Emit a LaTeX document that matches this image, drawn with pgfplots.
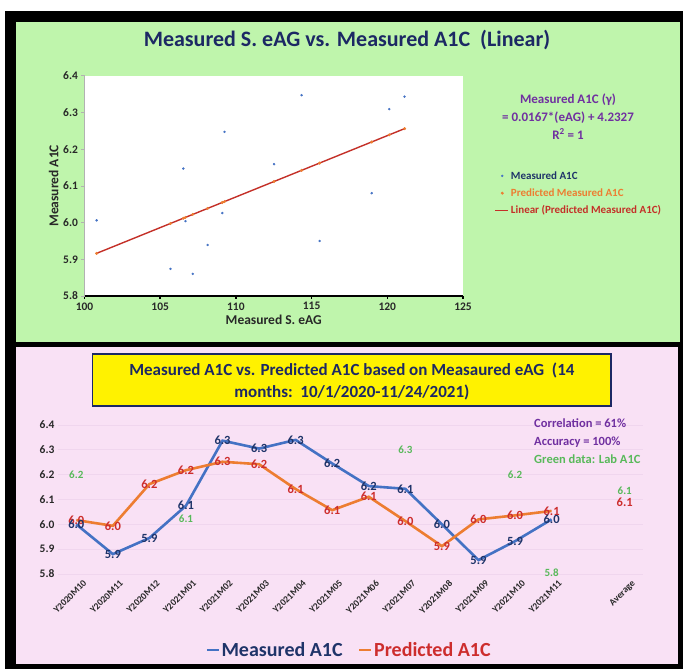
\documentclass[border=0pt]{standalone}
\usepackage{fontspec}
\setmainfont{Carlito}
\usepackage{pgfplots}
\pgfplotsset{compat=1.18}
\definecolor{bggreen}{RGB}{191,245,172}
\definecolor{bgpink}{RGB}{249,225,245}
\definecolor{titlenavy}{RGB}{28,40,100}
\definecolor{purp}{RGB}{112,48,160}
\definecolor{ptblue}{RGB}{68,114,196}
\definecolor{ptorange}{RGB}{237,125,49}
\definecolor{trendred}{RGB}{196,48,40}
\definecolor{navylab}{RGB}{31,52,105}
\definecolor{redlab}{RGB}{205,45,45}
\definecolor{greenlab}{RGB}{88,185,90}
\definecolor{gridpink}{RGB}{240,214,238}
\definecolor{txtgray}{RGB}{40,40,40}
\pgfplotsset{
  legmark/.style={legend image code/.code={\draw[mark repeat=2,mark phase=2,##1] plot coordinates {(0pt,0pt)(7pt,0pt)(14pt,0pt)};}},
  legline/.style={legend image code/.code={\draw[##1] (0pt,0pt) -- (13pt,0pt);}},
  leglinebot/.style={legend image code/.code={\draw[##1, line width=1.5pt] (0pt,0pt) -- (12pt,0pt);}},
}
\begin{document}
\begin{tikzpicture}[x=1pt,y=1pt]
\fill[white] (0,0) rectangle (683,669);
\fill[black] (5,0) rectangle (683,658);
\fill[bggreen] (16,327) rectangle (680,647);
\fill[bgpink] (16,5) rectangle (678,322);
\node[font=\bfseries\fontsize{22}{25}\selectfont, text=titlenavy] at (347,629) {Measured S. eAG vs. Measured A1C\ \ (Linear)};

% ---------------- top scatter -----------------
\begin{axis}[at={(84.5pt,373pt)}, anchor=south west, scale only axis,
  width=378.5pt, height=220.3pt,
  xmin=100, xmax=125, ymin=5.8, ymax=6.4,
  xtick={100,105,110,115,120,125},
  ytick={5.8,5.9,6.0,6.1,6.2,6.3,6.4},
  /pgf/number format/assume math mode=true,
  yticklabel style={/pgf/number format/fixed, /pgf/number format/fixed zerofill, /pgf/number format/precision=1},
  ticklabel style={font=\bfseries\fontsize{11.5}{13}\selectfont, text=txtgray},
  axis x line*=bottom, axis y line*=left,
  x axis line style={-, black, line width=2.2pt},
  y axis line style={-, gray!60, line width=0.6pt},
  tick align=outside, major tick length=3pt,
  xtick style={black, line width=1.5pt},
  ytick style={gray!60, line width=0.6pt},
  axis background/.style={fill=white},
  xlabel={Measured S. eAG}, ylabel={Measured A1C},
  label style={font=\bfseries\fontsize{13.5}{15}\selectfont, text=txtgray},
  xlabel style={yshift=2pt},
  ylabel style={yshift=-2pt},
  legend style={at={(1.075,0.585)}, anchor=north west, draw=none, fill=none,
    font=\bfseries\fontsize{11}{13}\selectfont, row sep=4pt},
  legend cell align=left,
]
\addplot[color=trendred, line width=1.4pt, forget plot]
 coordinates {(100.8,5.9161)(121.14,6.2558)};
\addplot[only marks, mark=*, mark size=1pt, color=ptblue, legmark]
 coordinates {(100.8,6.006)(105.68,5.874)(106.53,6.147)(106.67,6.004)(107.15,5.860)(108.13,5.939)(109.10,6.026)(109.25,6.247)(112.52,6.159)(114.34,6.347)(115.53,5.950)(118.97,6.080)(120.13,6.309)(121.14,6.343)};
\addlegendentry{\textcolor{navylab}{Measured A1C}}
\addplot[only marks, mark=*, mark size=1.3pt, color=ptorange, legmark]
 coordinates {(100.8,5.9161)(105.68,5.9976)(106.53,6.0118)(106.67,6.0141)(107.15,6.0222)(108.13,6.0385)(109.10,6.0547)(109.25,6.0572)(112.52,6.1118)(114.34,6.1423)(115.53,6.1620)(118.97,6.2195)(120.13,6.2389)(121.14,6.2558)};
\addlegendentry{\textcolor{ptorange}{Predicted Measured A1C}}
\addlegendimage{color=trendred, line width=1.4pt, legline}
\addlegendentry{\textcolor{trendred}{Linear (Predicted Measured A1C)}}
\end{axis}

\node[font=\bfseries\fontsize{13}{15}\selectfont, text=purp] at (568,569) {Measured A1C (γ)};
\node[font=\bfseries\fontsize{13}{15}\selectfont, text=purp] at (568,551.7) {= 0.0167*(eAG) + 4.2327};
\node[font=\bfseries\fontsize{13}{15}\selectfont, text=purp] at (568,535) {R\textsuperscript{2} = 1};

% ---------------- bottom title box -----------------
\draw[fill=yellow, draw=titlenavy, line width=1.2pt] (92.7,263) rectangle (611,315);
\node[font=\bfseries\fontsize{17}{20}\selectfont, text=titlenavy] at (351.9,299) {Measured A1C vs. Predicted A1C based on Measaured eAG\ \ (14};
\node[font=\bfseries\fontsize{17}{20}\selectfont, text=titlenavy] at (351.9,277) {months:\ \ 10/1/2020-11/24/2021)};

% ---------------- bottom line chart -----------------
\begin{axis}[at={(58pt,95pt)}, anchor=south west, scale only axis,
  width=585pt, height=149pt,
  xmin=-0.5, xmax=15.5, ymin=5.8, ymax=6.4,
  ytick={5.8,5.9,6.0,6.1,6.2,6.3,6.4},
  /pgf/number format/assume math mode=true,
  yticklabel style={/pgf/number format/fixed, /pgf/number format/fixed zerofill, /pgf/number format/precision=1,
     font=\bfseries\fontsize{11.5}{13}\selectfont, text=txtgray},
  xtick={0,1,2,3,4,5,6,7,8,9,10,11,12,13,15},
  xticklabels={Y2020M10,Y2020M11,Y2020M12,Y2021M01,Y2021M02,Y2021M03,Y2021M04,Y2021M05,Y2021M06,Y2021M07,Y2021M08,Y2021M09,Y2021M10,Y2021M11,Average},
  xticklabel style={rotate=45, anchor=north east, font=\bfseries\fontsize{9.5}{11}\selectfont, text=txtgray, yshift=-5pt, xshift=4pt},
  ymajorgrids, grid style={color=gridpink, line width=0.8pt},
  axis line style={draw=none}, major tick length=0pt, tick style={draw=none},
  clip=false,
  legend style={at={(0.498,-0.51)}, anchor=center, draw=none, fill=none,
    font=\bfseries\fontsize{20}{22}\selectfont, legend columns=2,
    /tikz/every even column/.append style={column sep=14pt}},
]
\addplot[color=ptblue, line width=2.6pt, leglinebot]
 table[x=x, y=y] {
x y
0 6.000
1 5.880
2 5.945
3 6.075
4 6.337
5 6.305
6 6.340
7 6.245
8 6.154
9 6.143
10 6.000
11 5.856
12 5.932
13 6.020
};
\addlegendentry{\textcolor{navylab}{Measured A1C}}
\addplot[color=ptorange, line width=2.6pt, leglinebot]
 table[x=x, y=y] {
x y
0 6.017
1 5.994
2 6.162
3 6.218
4 6.252
5 6.242
6 6.142
7 6.057
8 6.111
9 6.013
10 5.912
11 6.020
12 6.036
13 6.054
};
\addlegendentry{\textcolor{redlab}{Predicted A1C}}
% labels of predicted values
\addplot[draw=none, mark=none, forget plot, nodes near coords, point meta=explicit symbolic,
  every node near coord/.append style={anchor=center, font=\bfseries\fontsize{12.5}{14}\selectfont, text=redlab}]
 table[x=x, y=y, meta=lab] {
x y lab
0 6.017 6.0
1 5.994 6.0
2 6.162 6.2
3 6.218 6.2
4 6.252 6.3
5 6.242 6.2
6 6.142 6.1
7 6.057 6.1
8 6.111 6.1
9 6.013 6.0
10 5.912 5.9
11 6.020 6.0
12 6.036 6.0
13 6.054 6.1
15 6.090 6.1
};
% labels of measured values
\addplot[draw=none, mark=none, forget plot, nodes near coords, point meta=explicit symbolic,
  every node near coord/.append style={anchor=center, font=\bfseries\fontsize{12.5}{14}\selectfont, text=navylab}]
 table[x=x, y=y, meta=lab] {
x y lab
0 6.000 6.0
1 5.880 5.9
2 5.945 5.9
3 6.075 6.1
4 6.337 6.3
5 6.305 6.3
6 6.340 6.3
7 6.245 6.2
8 6.154 6.2
9 6.143 6.1
10 6.000 6.0
11 5.856 5.9
12 5.932 5.9
13 6.020 6.0
};
% lab A1C (green)
\addplot[draw=none, mark=none, forget plot, nodes near coords, point meta=explicit symbolic,
  every node near coord/.append style={anchor=center, font=\bfseries\fontsize{11}{13}\selectfont, text=greenlab}]
 table[x=x, y=y, meta=lab] {
x y lab
0 6.200 6.2
3 6.024 6.1
9 6.302 6.3
12 6.198 6.2
13 5.806 5.8
15 6.134 6.1
};
\end{axis}

\node[anchor=west, font=\bfseries\fontsize{12.5}{14}\selectfont, text=purp] at (530.7,246.3) {Correlation = 61\%};
\node[anchor=west, font=\bfseries\fontsize{12.5}{14}\selectfont, text=purp] at (530.7,227.3) {Accuracy = 100\%};
\node[anchor=west, font=\bfseries\fontsize{12.5}{14}\selectfont, text=greenlab] at (530.7,209.7) {Green data: Lab A1C};
\end{tikzpicture}
\end{document}
